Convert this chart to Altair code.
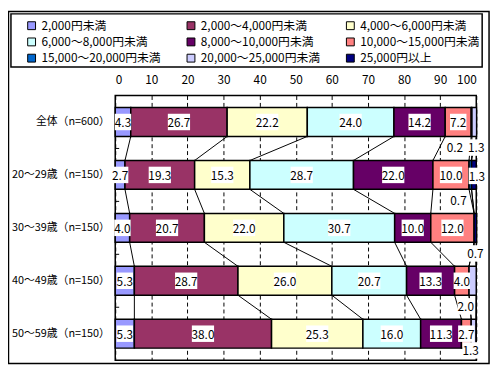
import json
import altair as alt
import pandas as pd

categories = ["2,000円未満", "2,000～4,000円未満", "4,000～6,000円未満",
              "6,000～8,000円未満", "8,000～10,000円未満", "10,000～15,000円未満",
              "15,000～20,000円未満", "20,000～25,000円未満", "25,000円以上"]
colors = ["#9999FF", "#993366", "#FFFFCC", "#CCFFFF", "#660066", "#FF8080",
          "#0066CC", "#CCCCFF", "#000080"]
groups = ["全体（n=600）", "20～29歳（n=150）", "30～39歳（n=150）",
          "40～49歳（n=150）", "50～59歳（n=150）"]
x_ticks = [0, 10, 20, 30, 40, 50, 60, 70, 80, 90, 100]
values_all = [4.3, 26.7, 22.2, 24.0, 14.2, 7.2, 0.2, 1.3, 0.0]
values_20s = [2.7, 19.3, 15.3, 28.7, 22.0, 10.0, 0.7, 0.0, 1.3]
values_30s = [4.0, 20.7, 22.0, 30.7, 10.0, 12.0, 0.0, 0.0, 0.7]
values_40s = [5.3, 28.7, 26.0, 20.7, 13.3, 4.0, 0.0, 2.0, 0.0]
values_50s = [5.3, 38.0, 25.3, 16.0, 11.3, 2.7, 0.0, 1.3, 0.0]
series = [values_all, values_20s, values_30s, values_40s, values_50s]

# label placement tweaks (pixels) for small segments drawn outside the bars
outside = {(0, 6): (-17, 25), (0, 7): (2, 26), (1, 6): (-12, 26), (1, 8): (3, 1),
           (2, 8): (0, 26), (3, 7): (-7, 26), (4, 7): (-3, 17)}

W, H = 367, 269
PX_X = W / 100.0
PX_Y = H / 5.0
HALF = 0.2727

rows, labels, links = [], [], []
for gi, vals in enumerate(series):
    cum = 0.0
    for ci, v in enumerate(vals):
        start, end = cum, cum + v
        cum = end
        if v > 0:
            rows.append(dict(group=gi, cat=categories[ci], start=start, end=end,
                             y1=gi - HALF, y2=gi + HALF))
            mid = (start + end) / 2
            dx, dy = outside.get((gi, ci), (0, 0))
            labels.append(dict(x=mid + dx / PX_X, y=gi + dy / PX_Y,
                               text=f"{v:.1f}", wide=len(f"{v:.1f}") > 3))
        if gi < len(series) - 1 and ci < len(vals) - 1:
            nxt = sum(series[gi + 1][:ci + 1])
            links.append(dict(xa=end, xb=nxt, ya=gi + HALF, yb=gi + 1 - HALF))

df = pd.DataFrame(rows)
lab = pd.DataFrame(labels)
lnk = pd.DataFrame(links)
ticks = pd.DataFrame({"y": [i + 0.5 for i in range(len(groups) - 1)]})

xs = alt.Scale(domain=[0, 100], nice=False, zero=False)
ys = alt.Scale(domain=[-0.5, 4.5], reverse=True, nice=False, zero=False)
label_expr = json.dumps(groups, ensure_ascii=False) + "[datum.value]"

x_axis = alt.Axis(orient="top", values=x_ticks, grid=True,
                  gridDash=[4, 3], gridColor="black", gridOpacity=1,
                  ticks=False, domain=False, labelPadding=9,
                  labelOverlap=False, labelFontSize=12, labelColor="black")
y_axis = alt.Axis(values=list(range(len(groups))), labelExpr=label_expr,
                  grid=False, ticks=False, domain=False, labelPadding=6,
                  labelOverlap=False, labelFontSize=11, labelColor="black")

bars = alt.Chart(df).mark_bar(stroke="black", strokeWidth=1.5).encode(
    x=alt.X("start:Q", scale=xs, title=None, axis=x_axis),
    x2="end:Q",
    y=alt.Y("y1:Q", scale=ys, title=None, axis=y_axis),
    y2="y2:Q",
    color=alt.Color("cat:N", sort=categories,
                    scale=alt.Scale(domain=categories, range=colors),
                    legend=alt.Legend(orient="none", legendX=-91, legendY=-77,
                                      direction="horizontal",
                                      columns=3, title=None, symbolType="square",
                                      symbolSize=64, symbolStrokeColor="black",
                                      symbolStrokeWidth=1, symbolOpacity=1,
                                      labelFontSize=12, labelColor="black",
                                      labelLimit=300, columnPadding=24,
                                      rowPadding=4.5, gridAlign="all", padding=0)),
)

connectors = alt.Chart(lnk).mark_rule(color="black", strokeWidth=1).encode(
    x=alt.X("xa:Q", scale=xs, title=None, axis=x_axis), x2="xb:Q",
    y=alt.Y("ya:Q", scale=ys, title=None, axis=y_axis), y2="yb:Q",
)

box_wide = "M-1.35,-1L1.35,-1L1.35,1L-1.35,1Z"
box_narrow = "M-1,-1L1,-1L1,1L-1,1Z"
boxes = alt.Chart(lab).mark_point(filled=True, color="white", opacity=1,
                                  strokeWidth=0).encode(
    x=alt.X("x:Q", scale=xs, title=None, axis=x_axis),
    y=alt.Y("y:Q", scale=ys, title=None, axis=y_axis),
    shape=alt.condition("datum.wide", alt.value(box_wide), alt.value(box_narrow)),
    size=alt.value(280),
)
texts = alt.Chart(lab).mark_text(fontSize=12, color="black", baseline="middle",
                                 dy=1).encode(
    x=alt.X("x:Q", scale=xs, title=None, axis=x_axis),
    y=alt.Y("y:Q", scale=ys, title=None, axis=y_axis),
    text="text:N",
)
tick_marks = alt.Chart(ticks).mark_rule(color="black").encode(
    x=alt.value(0), x2=alt.value(4),
    y=alt.Y("y:Q", scale=ys, title=None, axis=y_axis),
)

one = alt.Data(values=[{"a": 1}])
frame = alt.Chart(one).mark_rect(fill=None, stroke="black", strokeWidth=1.5).encode(
    x=alt.value(-108.5), x2=alt.value(380), y=alt.value(-85.5), y2=alt.value(272.5))
legend_frame = alt.Chart(one).mark_rect(fill="white", stroke="black",
                                        strokeWidth=1.5).encode(
    x=alt.value(-106), x2=alt.value(373), y=alt.value(-83), y2=alt.value(-29))

chart = alt.layer(frame, legend_frame, bars, connectors, boxes, texts,
                  tick_marks).properties(
    width=W, height=H,
    autosize=alt.AutoSizeParams(type="none"),
    padding={"left": 109, "top": 86, "right": 16, "bottom": 6},
).configure(font="Noto Sans CJK JP").configure_view(
    stroke="black", strokeWidth=1.5
)

chart.save("out.html", embed_options={"renderer": "svg", "actions": False})
